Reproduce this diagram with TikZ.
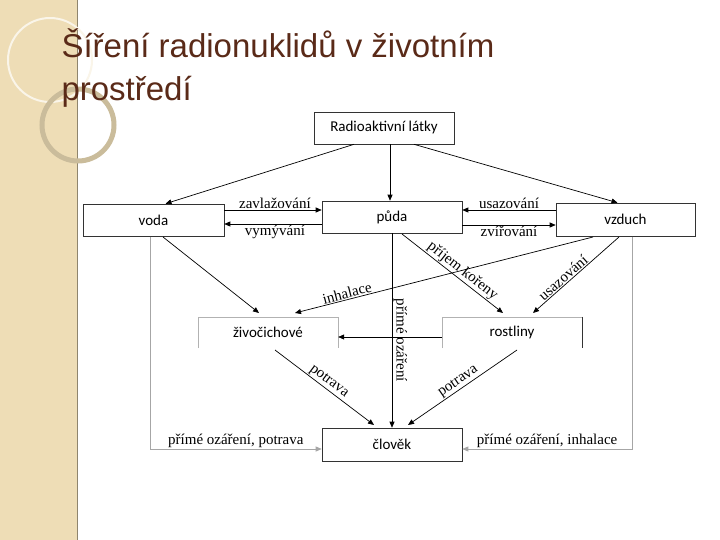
\documentclass[tikz,border=0pt]{standalone}
\usepackage{fontspec}
\setmainfont{Liberation Serif}
\newfontfamily\boxfont{Carlito}
\newfontfamily\titlefont{Liberation Sans}
\usetikzlibrary{arrows.meta}
\definecolor{beige}{HTML}{EEDDB6}
\definecolor{titlec}{HTML}{5A2A18}
\begin{document}
\begin{tikzpicture}[x=1pt,y=-1pt,
  bx/.style={draw=black!80,line width=0.6pt,fill=white},
  bt/.style={font=\boxfont\fontsize{15}{15}\selectfont},
  lbl/.style={font=\fontsize{15}{15}\selectfont,inner sep=1pt},
  arr/.style={-{Triangle[length=6pt,width=5pt]},line width=0.7pt},
  garr/.style={-{Triangle[length=6pt,width=5pt]},draw=black!35,line width=0.7pt}]
\useasboundingbox (0,0) rectangle (720,540);
\fill[white] (0,0) rectangle (720,540);
\fill[beige] (0,0) rectangle (78,540);
\draw[black!40!beige,line width=1pt] (77.5,0) -- (77.5,540);
\draw[white!70!beige,line width=2pt] (50,60) circle (42);
\draw[black!15!beige,line width=5pt] (78,125) circle (36);
\node[anchor=west,text=titlec,font=\titlefont\fontsize{33}{33}\selectfont] (t1) at (58,43) {Šíření radionuklidů v životním};
\node[anchor=west,text=titlec,font=\titlefont\fontsize{33}{33}\selectfont] (t2) at (58,92) {prostředí};
% boxes
\node[bx,bt,minimum width=140pt,minimum height=32pt] (rad) at (384,128) {Radioaktivní látky};
\node[bx,bt,minimum width=141pt,minimum height=32pt] (voda) at (153.5,220) {voda};
\node[bx,bt,minimum width=140pt,minimum height=32pt] (puda) at (392,217) {půda};
\node[bx,bt,minimum width=139pt,minimum height=33pt] (vzduch) at (625.5,219.5) {vzduch};
\node[bt,minimum width=140pt,minimum height=31pt] (ziv) at (268,332.5) {živočichové};
\draw[black!30,line width=0.6pt] (ziv.south west) -- (ziv.north west) -- (ziv.north east) -- (ziv.south east);
\node[bt,minimum width=140pt,minimum height=31pt] (rost) at (512,332.5) {rostliny};
\draw[black!30,line width=0.6pt] (rost.south west) -- (rost.north west) -- (rost.north east);
\draw[black!80,line width=0.6pt] (rost.north east) -- (rost.south east);
\node[bx,bt,minimum width=140pt,minimum height=33pt] (clo) at (392,444.5) {člověk};
% arrows from rad
\draw[arr] ([xshift=-30pt]rad.south) -- ([xshift=12pt]voda.north);
\draw[arr] ([xshift=6pt]rad.south) -- ([xshift=-2pt]puda.north);
\draw[arr] ([xshift=30pt]rad.south) -- ([xshift=-8pt]vzduch.north);
% horizontal
\draw[arr] (voda.east |- 0,210) -- node[lbl,above,pos=0.52]{zavlažování} (puda.west |- 0,210);
\draw[arr] (puda.west |- 0,224) -- node[lbl,below,pos=0.48]{vymývání} (voda.east |- 0,224);
\draw[arr] (vzduch.west |- 0,210) -- node[lbl,above,pos=0.5]{usazování} (puda.east |- 0,210);
\draw[arr] (puda.east |- 0,225) -- node[lbl,below,pos=0.5]{zvířování} (vzduch.west |- 0,225);
% diagonals
\coordinate (vb) at (163,237);
\draw[arr] (vb) -- (259,313);
\draw[arr] (593,237) -- node[lbl,sloped,above,pos=0.82]{inhalace} (295,313);
\draw[arr] (402,234) -- node[lbl,sloped,above,pos=0.55]{příjem kořeny} (503,313);
\draw[arr] (619,237) -- node[lbl,sloped,above,pos=0.6]{usazování} (533,313);
\draw[arr] (puda.south) -- node[lbl,rotate=-90,anchor=south,pos=0.55]{přímé ozáření} (clo.north);
\draw[arr] (rost.west |- 0,337) -- (ziv.east |- 0,337);
\draw[arr] (275,350) -- node[lbl,sloped,above,pos=0.5]{potrava} (374,425);
\draw[arr] (517,350) -- node[lbl,sloped,above,pos=0.5]{potrava} (408,425);
% grey side lines
\draw[garr] (150,236.5) |- node[lbl,text=black,above,pos=0.75]{přímé ozáření, potrava} (clo.west |- 0,449);
\draw[garr] (632,236.5) |- node[lbl,text=black,above,pos=0.75]{přímé ozáření, inhalace} (clo.east |- 0,449);
\end{tikzpicture}
\end{document}
